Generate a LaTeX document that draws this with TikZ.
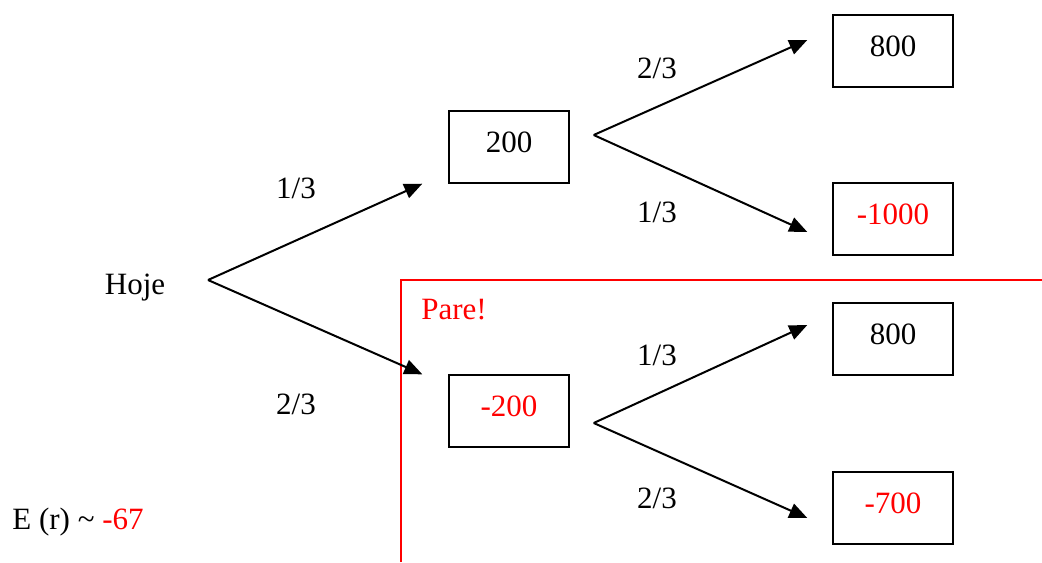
\documentclass[tikz,border=0pt]{standalone}
\usepackage{fontspec}
\setmainfont{Liberation Serif}
\usetikzlibrary{arrows.meta,calc}
\tikzset{
  valbox/.style={draw,line width=0.7pt,minimum width=60pt,minimum height=36pt,inner sep=0pt,text depth=5pt},
  branch/.style={line width=1pt,-{Triangle[length=9pt,width=7.5pt]}},
  prob/.style={inner sep=0pt}
}
\begin{document}
\begin{tikzpicture}[x=0.5pt,y=-0.5pt,font=\fontsize{15.5}{19}\selectfont]
   \useasboundingbox (0,0) rectangle (1042,562);
   % root
   \node (hoje) at (135,288) {Hoje};
   \coordinate (root) at (208,280);
   % first level
   \node[valbox] (up) at (509,147) {200};
   \node[valbox,text=red] (down) at (509,411) {-200};
   % second level
   \node[valbox] (uu) at (893,51) {800};
   \node[valbox,text=red] (ud) at (893,219) {-1000};
   \node[valbox] (du) at (893,339) {800};
   \node[valbox,text=red] (dd) at (893,508) {-700};
   % stop region
   \draw[red,line width=0.9pt] (401,562) -- (401,280) -- (1042,280);
   \node[red,anchor=west,inner sep=0pt] (pare) at (421,310) {Pare!};
   % branches
   \draw[branch] (root) -- ($(up.south west)+(-26,0)$);
   \draw[branch] (root) -- ($(down.north west)+(-26,0)$);
   \draw[branch] ($(up.east)+(24,-12)$) -- ($(uu.west)+(-25,-11)$);
   \draw[branch] ($(up.east)+(24,-12)$) -- ($(ud.west)+(-25,13)$);
   \draw[branch] ($(down.east)+(24,12)$) -- ($(du.west)+(-25,-14)$);
   \draw[branch] ($(down.east)+(24,12)$) -- ($(dd.west)+(-25,10)$);
   % probabilities
   \node[prob] (p1) at (296,188) {1/3};
   \node[prob] (p2) at (296,404) {2/3};
   \node[prob] (p3) at (657,68) {2/3};
   \node[prob] (p4) at (657,212) {1/3};
   \node[prob] (p5) at (657,355) {1/3};
   \node[prob] (p6) at (657,498) {2/3};
   % expected value
   \node[anchor=west,inner sep=0pt] (er) at (12,522) {E (r) \textasciitilde{} \textcolor{red}{-67}};
\end{tikzpicture}
\end{document}
